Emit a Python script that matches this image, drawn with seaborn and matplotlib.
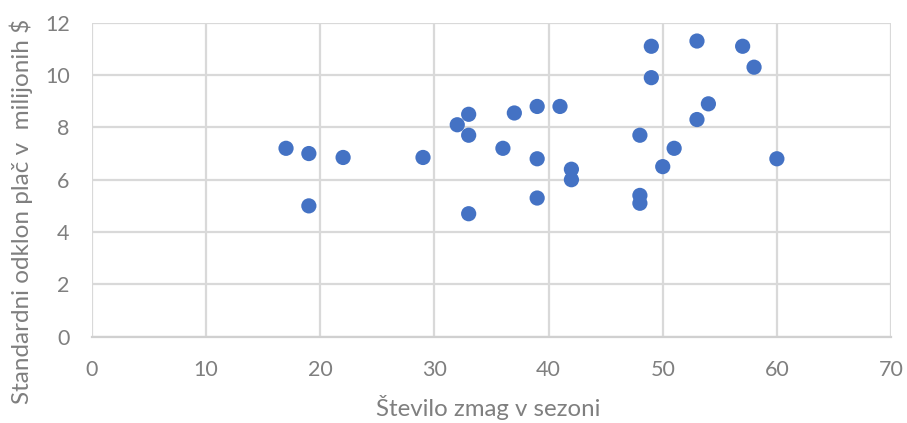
import matplotlib
matplotlib.use("Agg")
import matplotlib.pyplot as plt
import seaborn as sns
import pandas as pd

# Wins per season vs. standard deviation of salaries (millions of $)
wins = [17, 19, 19, 22, 29, 32, 33, 33, 33, 36, 37, 39, 39, 39, 41, 42, 42,
        48, 48, 48, 49, 49, 50, 51, 53, 53, 54, 57, 58, 60]
salary_sd = [7.2, 7.0, 5.0, 6.85, 6.85, 8.1, 8.5, 7.7, 4.7, 7.2, 8.55, 8.8, 6.8, 5.3, 8.8, 6.4, 6.0,
             7.7, 5.4, 5.1, 11.1, 9.9, 6.5, 7.2, 11.3, 8.3, 8.9, 11.1, 10.3, 6.8]

x_ticks = [0, 10, 20, 30, 40, 50, 60, 70]
y_ticks = [0, 2, 4, 6, 8, 10, 12]
x_label = "Število zmag v sezoni"
y_label = "Standardni odklon plač v  milijonih $"

df = pd.DataFrame({"wins": wins, "sd": salary_sd})

sns.set_theme(style="white")
plt.rcParams["font.family"] = ["Lato", "DejaVu Sans"]

fig = plt.figure(figsize=(9.07, 4.23), dpi=100)
ax = fig.add_axes([0.1014, 0.204, 0.881, 0.7423])

sns.scatterplot(data=df, x="wins", y="sd", ax=ax, s=120, color="#4472C4",
                edgecolor="none", zorder=3)

ax.set_xlim(0, 70)
ax.set_ylim(0, 12)
ax.set_xticks(x_ticks)
ax.set_yticks(y_ticks)
ax.grid(True, color="#d9d9d9", linewidth=1.6)
ax.set_axisbelow(True)
for side in ["top", "right", "left"]:
    ax.spines[side].set_visible(False)
ax.spines["bottom"].set_color("#d0d0d0")
ax.spines["bottom"].set_linewidth(1.6)

ax.tick_params(axis="both", length=0, labelsize=15.5, labelcolor="#7f7f7f")
ax.tick_params(axis="x", pad=17)
ax.tick_params(axis="y", pad=16)

ax.set_xlabel(x_label, fontsize=17.3, color="#7f7f7f")
ax.set_ylabel(y_label, fontsize=17.5, color="#7f7f7f")
ax.xaxis.set_label_coords(0.496, -0.187)
ax.yaxis.set_label_coords(-0.074, 0.40)

fig.savefig("out.png", dpi=100)
